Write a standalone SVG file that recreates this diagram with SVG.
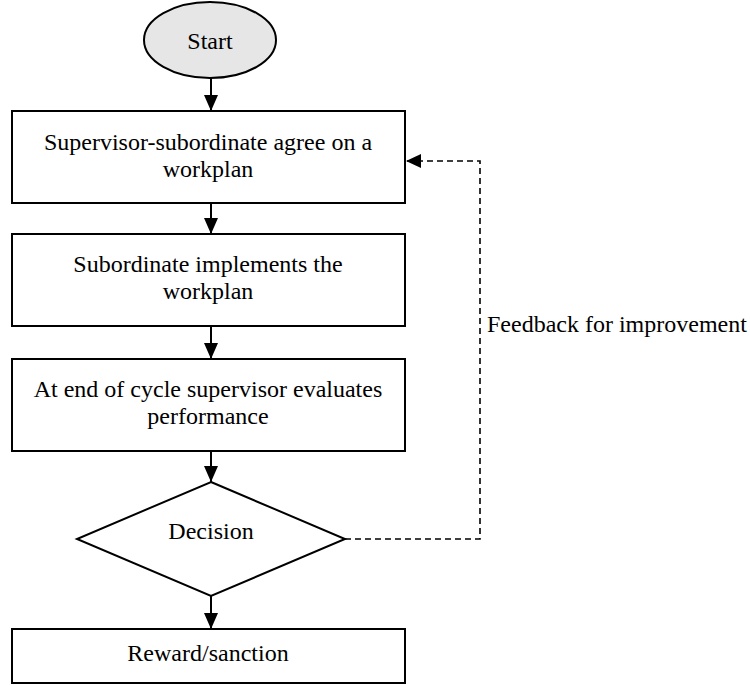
<svg xmlns="http://www.w3.org/2000/svg" width="750" height="685" viewBox="0 0 750 685">
<style>
.shape{fill:#fff;stroke:#000;stroke-width:2}
.t{font-family:"Liberation Serif","Times New Roman",serif;font-size:24px;fill:#000;text-anchor:middle}
.c{stroke:#000;stroke-width:2;fill:none}
.d{stroke:#000;stroke-width:1.6;fill:none;stroke-dasharray:6 4}
</style>
<defs>
<marker id="ah" viewBox="0 0 16 14" refX="16" refY="7" markerWidth="16" markerHeight="14" markerUnits="userSpaceOnUse" orient="auto">
<path d="M0,0 L16,7 L0,14 Z" fill="#000"/>
</marker>
</defs>
<rect width="750" height="685" fill="#fff"/>
<g id="start">
<ellipse cx="210" cy="40" rx="66" ry="38" fill="#e6e6e6" stroke="#000" stroke-width="2"/>
<text class="t" x="210" y="49">Start</text>
</g>
<g id="agree">
<rect class="shape" x="12" y="111" width="393" height="92"/>
<text class="t" x="208" y="150">Supervisor-subordinate agree on a</text>
<text class="t" x="208" y="177">workplan</text>
</g>
<g id="implement">
<rect class="shape" x="12" y="234" width="393" height="92"/>
<text class="t" x="208" y="272">Subordinate implements the</text>
<text class="t" x="208" y="299">workplan</text>
</g>
<g id="evaluate">
<rect class="shape" x="12" y="359" width="393" height="92"/>
<text class="t" x="208" y="397">At end of cycle supervisor evaluates</text>
<text class="t" x="208" y="424">performance</text>
</g>
<g id="decision">
<polygon class="shape" points="211,482 345,539 211,596 77,539"/>
<text class="t" x="211" y="539">Decision</text>
</g>
<g id="reward">
<rect class="shape" x="12" y="629" width="393" height="54"/>
<text class="t" x="208" y="661">Reward/sanction</text>
</g>
<g id="connectors">
<line class="c" x1="211" y1="78" x2="211" y2="111" marker-end="url(#ah)"/>
<line class="c" x1="211" y1="203" x2="211" y2="234" marker-end="url(#ah)"/>
<line class="c" x1="211" y1="326" x2="211" y2="359" marker-end="url(#ah)"/>
<line class="c" x1="211" y1="451" x2="211" y2="482" marker-end="url(#ah)"/>
<line class="c" x1="211" y1="596" x2="211" y2="629" marker-end="url(#ah)"/>
<polyline class="d" points="345,539 480,539 480,161 406,161"/>
<path d="M406,161 L421,154 L421,168 Z" fill="#000"/>
<text class="t" x="487" y="332" style="text-anchor:start">Feedback for improvement</text>
</g>
</svg>
